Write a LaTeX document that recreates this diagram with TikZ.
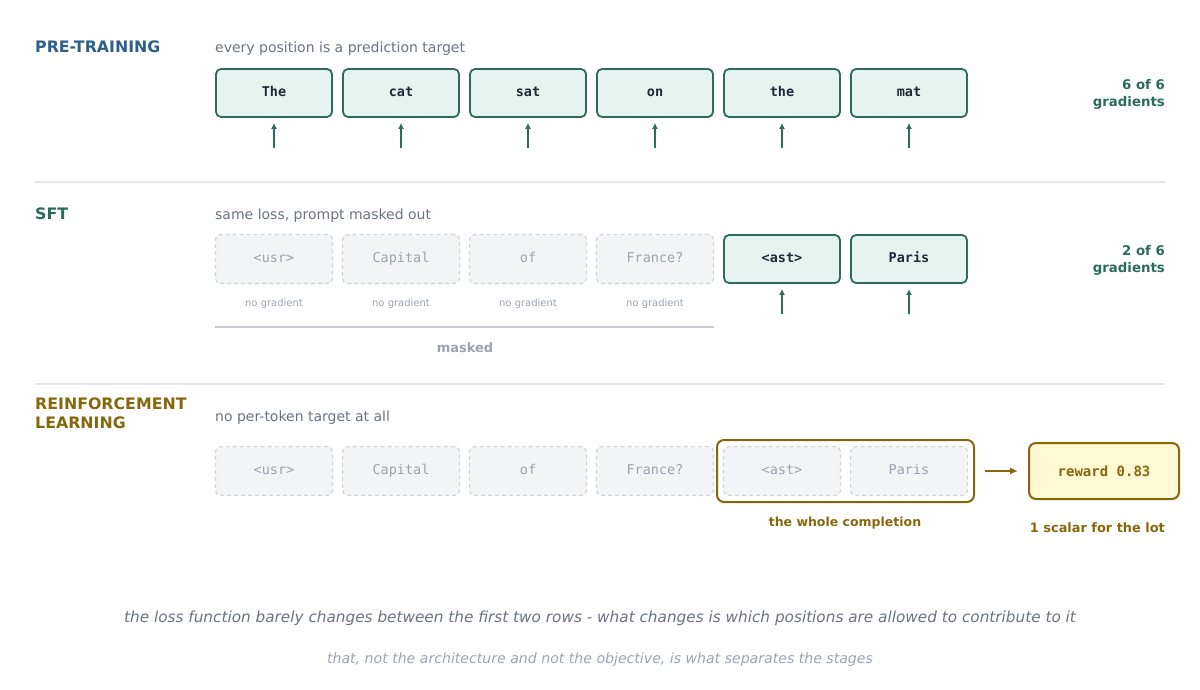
\documentclass[tikz,border=0pt]{standalone}
\usepackage{fontspec}
\setmainfont{DejaVu Sans}
\setmonofont{DejaVu Sans Mono}
\usetikzlibrary{arrows.meta,calc}
\definecolor{ptblue}{HTML}{2C5F8A}
\definecolor{teal}{HTML}{2A6B5A}
\definecolor{olive}{HTML}{86680C}
\definecolor{subgray}{HTML}{6B7280}
\definecolor{lightgray}{HTML}{9CA3AF}
\definecolor{sepgray}{HTML}{E5E7EB}
\definecolor{tokfill}{HTML}{E6F4EF}
\definecolor{tokdraw}{HTML}{2E6B5C}
\definecolor{maskfill}{HTML}{F3F4F6}
\definecolor{maskdraw}{HTML}{D1D5DB}
\definecolor{masktext}{HTML}{9CA3AF}
\definecolor{darktext}{HTML}{1F2937}
\definecolor{barcol}{HTML}{C7CAD4}
\definecolor{rewfill}{HTML}{FEF9D3}
\tikzset{
  title/.style={anchor=base west, font=\fontsize{15.8}{17}\selectfont\bfseries, align=left, inner sep=0},
  sub/.style={anchor=base west, font=\fontsize{14}{16}\selectfont, text=subgray, inner sep=0},
  tok/.style={draw=tokdraw, line width=1.8pt, fill=tokfill, rounded corners=5pt, minimum width=116pt, minimum height=48pt, inner sep=0, text height=9.5pt, text depth=2pt, font=\ttfamily\bfseries\fontsize{13.5}{15}\selectfont, text=darktext},
  masktok/.style={draw=maskdraw, line width=1.2pt, dash pattern=on 4pt off 3pt, fill=maskfill, rounded corners=5pt, minimum width=117pt, minimum height=49pt, inner sep=0, text height=9.5pt, text depth=2pt, font=\ttfamily\fontsize{13.5}{15}\selectfont, text=masktext},
  grad/.style={-{Latex[length=6pt,width=6pt]}, draw=tokdraw, line width=2pt},
  count/.style={anchor=north east, align=right, font=\fontsize{13.3}{17}\selectfont\bfseries, text=teal, inner sep=0},
  nograd/.style={font=\fontsize{10}{12}\selectfont, text=lightgray, inner sep=0},
  sep/.style={draw=sepgray, line width=1.2pt},
}
\begin{document}
\begin{tikzpicture}[x=1pt,y=-1pt]
\useasboundingbox (0,0) rectangle (1200,690);
% ---------- PRE-TRAINING ----------
\node[title, text=ptblue] (t1) at (35,53) {PRE-TRAINING};
\node[sub] (s1) at (215,53) {every position is a prediction target};
\foreach \i/\w in {1/The,2/cat,3/sat,4/on,5/the,6/mat}{
  \node[tok] (p\i) at ({274+127*(\i-1)},93) {\w};
  \coordinate (pa\i) at ({274+127*(\i-1)},148);
  \draw[grad] (pa\i) -- ($(p\i.south)+(0,5)$);
}
\node[count] (c1) at (1165,79) {6 of 6\\gradients};
\coordinate (l1a) at (35,182); \coordinate (l1b) at (1165,182);
\draw[sep] (l1a) -- (l1b);
% ---------- SFT ----------
\node[title, text=teal] (t2) at (35,219) {SFT};
\node[sub] (s2) at (215,219) {same loss, prompt masked out};
\foreach \i/\w in {1/<usr>,2/Capital,3/of,4/France?}{
  \node[masktok] (q\i) at ({274+127*(\i-1)},259) {\w};
  \node[nograd] (g\i) at ({274+127*(\i-1)},304) {no gradient};
}
\node[tok] (q5) at (782,259) {<ast>};
\node[tok] (q6) at (909,259) {Paris};
\foreach \i in {5,6}{
  \coordinate (qa\i) at ({274+127*(\i-1)},314);
  \draw[grad] (qa\i) -- ($(q\i.south)+(0,5)$);
}
\coordinate (m1) at (215,327); \coordinate (m2) at (714,327);
\draw[draw=barcol, line width=2pt] (m1) -- (m2);
\node[font=\fontsize{13}{15}\selectfont\bfseries, text=lightgray, inner sep=0] (mk) at (465,348) {masked};
\node[count] (c2) at (1165,245) {2 of 6\\gradients};
\coordinate (l2a) at (35,384); \coordinate (l2b) at (1165,384);
\draw[sep] (l2a) -- (l2b);
% ---------- RL ----------
\node[title, text=olive, anchor=north west, font=\fontsize{15.8}{19}\selectfont\bfseries] (t3) at (35,398) {REINFORCEMENT\\LEARNING};
\node[sub] (s3) at (215,421) {no per-token target at all};
\foreach \i/\w in {1/<usr>,2/Capital,3/of,4/France?,5/<ast>,6/Paris}{
  \node[masktok] (r\i) at ({274+127*(\i-1)},471) {\w};
}
\node[draw=olive, line width=2pt, rounded corners=7pt, minimum width=257pt, minimum height=62pt, inner sep=0] (comp) at (845.5,471) {};
\node[draw=olive, line width=2pt, fill=rewfill, rounded corners=7pt, minimum width=150pt, minimum height=56pt, inner sep=0, font=\ttfamily\bfseries\fontsize{14}{16}\selectfont, text=olive] (rew) at (1104,471) {reward 0.83};
\draw[-{Latex[length=8pt,width=7pt]}, draw=olive, line width=2pt] ($(comp.east)+(10,0)$) -- ($(rew.west)+(-10,0)$);
\node[font=\fontsize{12.5}{14}\selectfont\bfseries, text=olive, inner sep=0] (wc) at (845,523) {the whole completion};
\node[font=\fontsize{12.9}{14}\selectfont\bfseries, text=olive, inner sep=0, anchor=east] (sc) at (1165,528) {1 scalar for the lot};
% ---------- footer ----------
\node[font=\fontsize{15.27}{17}\selectfont\itshape, text=subgray, inner sep=0] (f1) at (600,618) {the loss function barely changes between the first two rows - what changes is which positions are allowed to contribute to it};
\node[font=\fontsize{14.1}{16}\selectfont\itshape, text=lightgray, inner sep=0] (f2) at (600,660) {that, not the architecture and not the objective, is what separates the stages};
\end{tikzpicture}
\end{document}
